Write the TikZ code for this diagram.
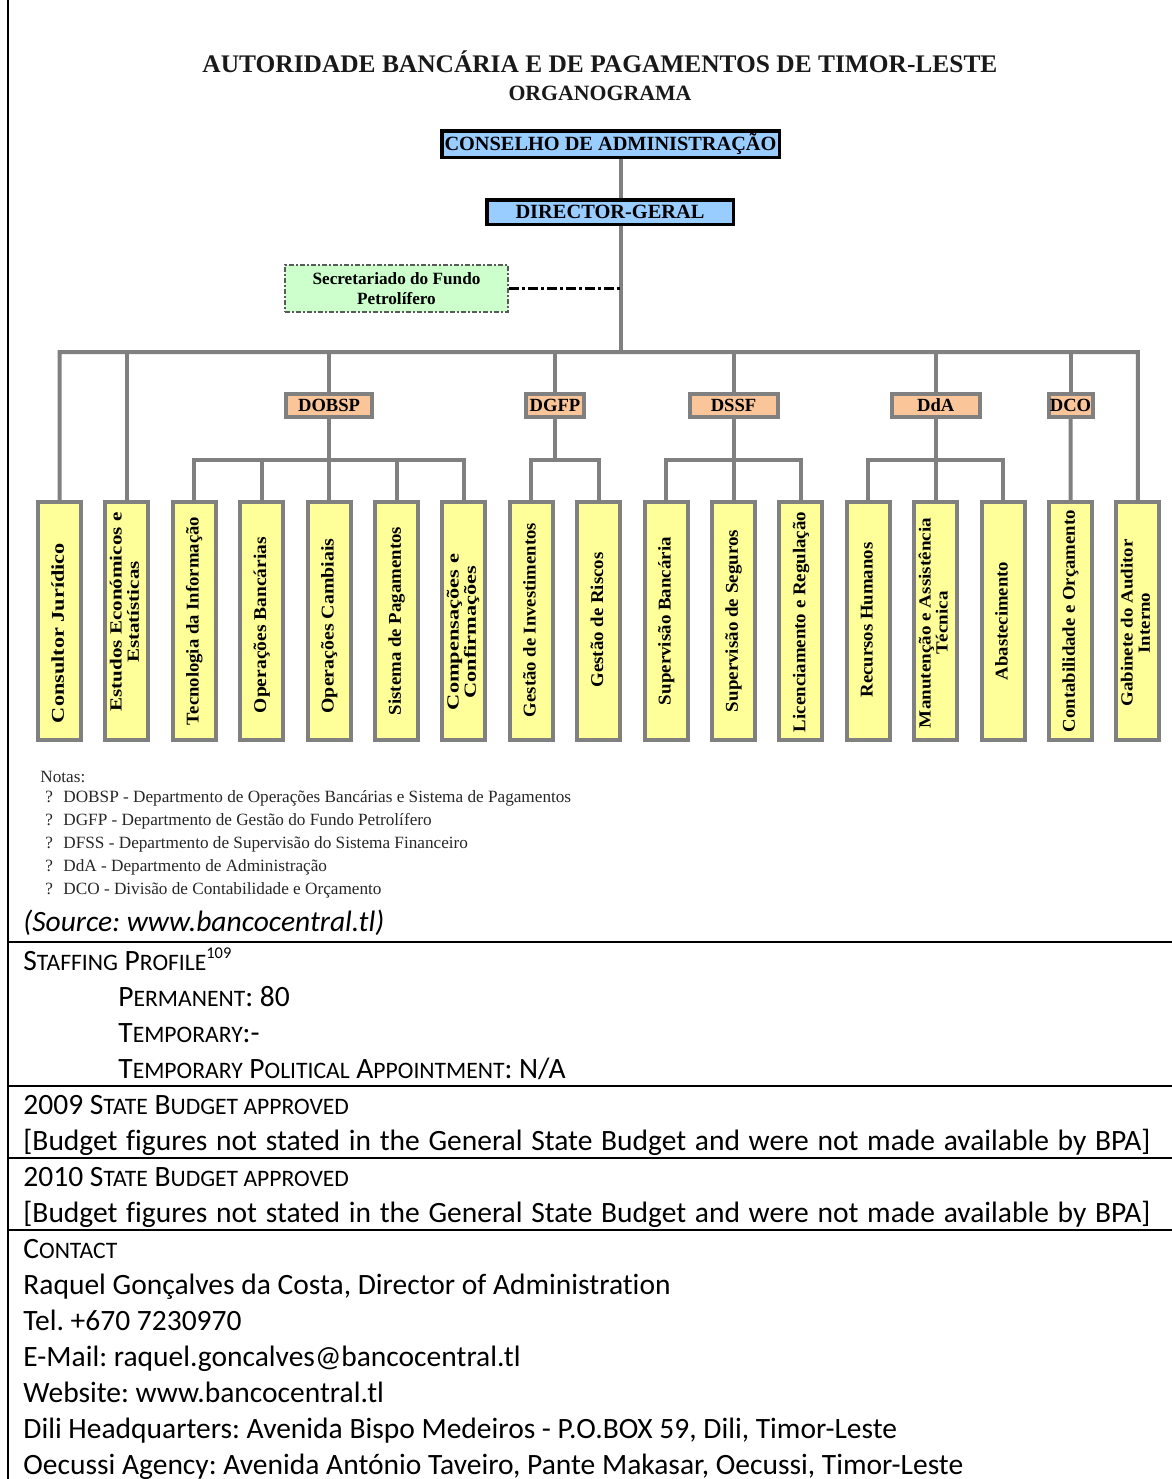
\documentclass[tikz,border=0pt]{standalone}
\usepackage{fontspec}
\setmainfont{Liberation Serif}
\newfontfamily\calib[Ligatures=NoCommon]{Carlito}
\usepackage{graphicx}
\frenchspacing
\newlength\fitlen
\newcommand{\fitx}[2]{\settowidth{\fitlen}{#2}\pgfmathsetmacro\fitf{(#1)/\fitlen}\scalebox{\fitf}[1]{#2}}
\newcommand{\SC}[1]{{\fontsize{11.8pt}{14pt}\selectfont #1}}
\newcommand{\myssup}[1]{\raisebox{6pt}{\fontsize{8.2pt}{9pt}\selectfont #1}}
\definecolor{lgray}{RGB}{128,128,128}
\definecolor{bluef}{RGB}{153,204,255}
\definecolor{yelf}{RGB}{255,255,153}
\definecolor{oraf}{RGB}{250,197,153}
\definecolor{grnf}{RGB}{204,255,204}
\definecolor{dgray}{RGB}{90,90,90}
\begin{document}
\begin{tikzpicture}[x=0.5pt,y=-0.5pt,
  conn/.style={draw=lgray, line width=2pt},
  ybox/.style={draw=lgray, line width=2pt, fill=yelf, minimum width=21.5pt, minimum height=119pt, inner sep=0pt},
  obox/.style={draw=lgray, line width=2pt, fill=oraf, minimum height=11.5pt, inner sep=0pt,
     font=\bfseries\fontsize{9.3}{11}\selectfont, text height=6.2pt, text depth=0pt},
  bbox/.style={draw=black, line width=1.75pt, fill=bluef, inner sep=0pt,
     font=\bfseries\fontsize{10.1}{12}\selectfont, text height=6.7pt, text depth=0pt},
  secbox/.style={draw=dgray, line width=1pt, dash pattern=on 2.5pt off 1pt on 1pt off 1pt,
     fill=grnf, inner sep=0pt, minimum width=111.5pt, minimum height=23.5pt, align=center,
     font=\bfseries\fontsize{8.6}{10}\selectfont},
  dd/.style={draw=black, line width=1.5pt, dash pattern=on 5pt off 1.5pt on 1.5pt off 1.5pt},
  ylab/.style={inner sep=0pt, rotate=90, font=\bfseries\fontsize{9}{10}\selectfont, text height=6.3pt, text depth=1.9pt},
  ylabb/.style={inner sep=0pt, rotate=90, font=\bfseries\fontsize{8.5}{8.6}\selectfont},
  ttl/.style={inner sep=0pt, anchor=base, text=black!90},
  note/.style={inner sep=0pt, anchor=base west, font=\fontsize{8.6}{11.5}\selectfont, text=black!85},
  tab/.style={inner sep=0pt, anchor=base west, font=\calib\fontsize{14.75}{18}\selectfont},
  tline/.style={draw=black, line width=1pt}
]
\useasboundingbox (0,0) rectangle (1172,1479);

% ---------- titles ----------
\node[ttl, font=\bfseries\fontsize{12.66}{15}\selectfont] (title) at (600,72)
  {\fitx{397.5pt}{AUTORIDADE BANCÁRIA E DE PAGAMENTOS DE TIMOR-LESTE}};
\node[ttl, font=\bfseries\fontsize{10.9}{13}\selectfont] (subtitle) at (600,100)
  {\fitx{91.5pt}{ORGANOGRAMA}};

% ---------- top boxes ----------
\node[bbox, minimum width=168.75pt, minimum height=13.25pt] (cons) at (610.5,144)
  {\fitx{166pt}{CONSELHO DE ADMINISTRAÇÃO}};
\node[bbox, minimum width=123.25pt, minimum height=12.25pt] (dg) at (610,212)
  {\fitx{94.5pt}{DIRECTOR-GERAL}};
\node[secbox] (sec) at (396.5,288.5) {Secretariado do Fundo\\Petrolífero};
\coordinate (j) at (621,352);

% ---------- department boxes ----------
\node[obox, minimum width=43pt] (dobsp) at (329.1,405.5) {DOBSP};
\node[obox, minimum width=29pt] (dgfp) at (555,405.5) {DGFP};
\node[obox, minimum width=44pt] (dssf) at (733.5,405.5) {DSSF};
\node[obox, minimum width=44pt] (dda) at (935.7,405.5) {DdA};
\node[obox, minimum width=22pt] (dco) at (1070.5,405.5) {DCO};

% ---------- unit boxes ----------
\foreach \i in {0,...,16} {
  \pgfmathsetmacro\cx{59.5+67.4*\i}
  \node[ybox] (b\i) at (\cx,621) {};
}

% ---------- unit labels ----------
\node[ylab] (t0) at (59.5,633) {\fitx{90pt}{Consultor Jurídico}};
\node[ylabb] (t1) at (126.9,612) {\fitx{99.5pt}{\begin{tabular}{@{}c@{}}Estudos Económicos e\\Estatísticas\end{tabular}}};
\node[ylab] (t2) at (194.3,621) {\fitx{104pt}{Tecnologia da Informação}};
\node[ylab] (t3) at (261.7,625) {\fitx{88pt}{Operações Bancárias}};
\node[ylab] (t4) at (329.1,626) {\fitx{87.5pt}{Operações Cambiais}};
\node[ylab] (t5) at (396.5,621) {\fitx{94pt}{Sistema de Pagamentos}};
\node[ylabb] (t6) at (463.9,632) {\fitx{78pt}{\begin{tabular}{@{}c@{}}Compensações e\\Confirmações\end{tabular}}};
\node[ylab] (t7) at (531.3,620) {\fitx{97pt}{Gestão de Investimentos}};
\node[ylab] (t8) at (598.7,620) {\fitx{67.5pt}{Gestão de Riscos}};
\node[ylab] (t9) at (666.1,621) {\fitx{84pt}{Supervisão Bancária}};
\node[ylab] (t10) at (733.5,621) {\fitx{91pt}{Supervisão de Seguros}};
\node[ylab] (t11) at (800.9,622) {\fitx{110pt}{Licenciamento e Regulação}};
\node[ylab] (t12) at (868.3,620) {\fitx{77.5pt}{Recursos Humanos}};
\node[ylabb] (t13) at (935.7,623) {\fitx{105pt}{\begin{tabular}{@{}c@{}}Manutenção e Assistência\\Técnica\end{tabular}}};
\node[ylab] (t14) at (1003.1,621) {\fitx{59pt}{Abastecimento}};
\node[ylab] (t15) at (1070.5,621) {\fitx{111pt}{Contabilidade e Orçamento}};
\node[ylabb] (t16) at (1137.9,623) {\fitx{83.5pt}{\begin{tabular}{@{}c@{}}Gabinete do Auditor\\Interno\end{tabular}}};

% ---------- connectors ----------
\draw[conn] (cons.south -| j) -- (dg.north -| j);
\draw[conn] (dg.south -| j) -- (j);
\draw[dd] (sec.east) -- (sec.east -| j);
\coordinate (busL) at (59.5,352);
\coordinate (busR) at (1137.9,352);
\draw[conn] (b0.north) -- (busL) -- (busR) -- (b16.north);
\draw[conn] (b1.north) -- (b1.north |- busL);
\foreach \d in {dobsp,dgfp,dssf,dda,dco}
  \draw[conn] (\d.north) -- (\d.north |- busL);
\coordinate (sb) at (0,460);
\draw[conn] (b2.north) -- (b2.north |- sb) -- (b6.north |- sb) -- (b6.north);
\foreach \i in {3,4,5} \draw[conn] (b\i.north) -- (b\i.north |- sb);
\draw[conn] (dobsp.south) -- (dobsp.south |- sb);
\draw[conn] (b7.north) -- (b7.north |- sb) -- (b8.north |- sb) -- (b8.north);
\draw[conn] (dgfp.south) -- (dgfp.south |- sb);
\draw[conn] (b9.north) -- (b9.north |- sb) -- (b11.north |- sb) -- (b11.north);
\draw[conn] (b10.north) -- (b10.north |- sb);
\draw[conn] (dssf.south) -- (dssf.south |- sb);
\draw[conn] (b12.north) -- (b12.north |- sb) -- (b14.north |- sb) -- (b14.north);
\draw[conn] (b13.north) -- (b13.north |- sb);
\draw[conn] (dda.south) -- (dda.south |- sb);
\draw[conn] (dco.south) -- (b15.north);

% ---------- notes ----------
\node[note] (notas) at (40,782.5) {Notas:};
\node[note] (q1) at (45,802.5) {?};
\node[note] (n1) at (63,802.5) {DOBSP - Departmento de Operações Bancárias e Sistema de Pagamentos};
\node[note] (q2) at (45,825.5) {?};
\node[note] (n2) at (63,825.5) {DGFP - Departmento de Gestão do Fundo Petrolífero};
\node[note] (q3) at (45,848.5) {?};
\node[note] (n3) at (63,848.5) {DFSS - Departmento de Supervisão do Sistema Financeiro};
\node[note] (q4) at (45,871.5) {?};
\node[note] (n4) at (63,871.5) {DdA - Departmento de Administração};
\node[note] (q5) at (45,894.5) {?};
\node[note] (n5) at (63,894.5) {DCO - Divisão de Contabilidade e Orçamento};

\node[tab, font=\calib\itshape\fontsize{14.75}{18}\selectfont] (src) at (23,931) {(Source: www.bancocentral.tl)};

% ---------- table rules ----------
\coordinate (lt) at (8,0);
\coordinate (lb) at (8,1479);
\draw[draw=black, line width=1.2pt] (lt) -- (lb);
\coordinate (h1a) at (8,942);  \coordinate (h1b) at (1172,942);
\coordinate (h2a) at (8,1086); \coordinate (h2b) at (1172,1086);
\coordinate (h3a) at (8,1158); \coordinate (h3b) at (1172,1158);
\coordinate (h4a) at (8,1230); \coordinate (h4b) at (1172,1230);
\draw[tline] (h1a) -- (h1b);
\draw[tline] (h2a) -- (h2b);
\draw[tline] (h3a) -- (h3b);
\draw[tline] (h4a) -- (h4b);

% ---------- table text ----------
\node[tab] (r1) at (23,970) {S\SC{TAFFING} P\SC{ROFILE}\myssup{109}};
\node[tab] (r2) at (118,1006) {P\SC{ERMANENT}: 80};
\node[tab] (r3) at (118,1042) {T\SC{EMPORARY}:-};
\node[tab] (r4) at (118,1078) {T\SC{EMPORARY} P\SC{OLITICAL} A\SC{PPOINTMENT}: N/A};
\node[tab] (r5) at (23,1114) {2009 S\SC{TATE} B\SC{UDGET APPROVED}};
\node[tab] (r6) at (23,1150) {\makebox[563.5pt][s]{[Budget figures not stated in the General State Budget and were not made available by BPA]}};
\node[tab] (r7) at (23,1186) {2010 S\SC{TATE} B\SC{UDGET APPROVED}};
\node[tab] (r8) at (23,1222) {\makebox[563.5pt][s]{[Budget figures not stated in the General State Budget and were not made available by BPA]}};
\node[tab] (r9) at (23,1258) {C\SC{ONTACT}};
\node[tab] (r10) at (23,1294) {Raquel Gonçalves da Costa, Director of Administration};
\node[tab] (r11) at (23,1330) {Tel. +670 7230970};
\node[tab] (r12) at (23,1366) {E-Mail: raquel.goncalves@bancocentral.tl};
\node[tab] (r13) at (23,1402) {Website: www.bancocentral.tl};
\node[tab] (r14) at (23,1438) {Dili Headquarters: Avenida Bispo Medeiros - P.O.BOX 59, Dili, Timor-Leste};
\node[tab] (r15) at (23,1474) {Oecussi Agency: Avenida António Taveiro, Pante Makasar, Oecussi, Timor-Leste};
\end{tikzpicture}
\end{document}
